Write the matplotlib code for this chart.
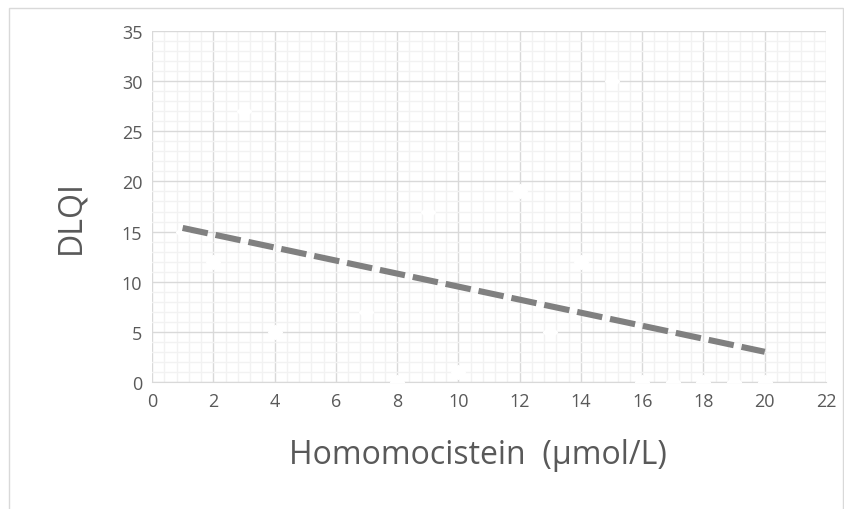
import numpy as np
import matplotlib
matplotlib.use('Agg')
import matplotlib.pyplot as plt
from matplotlib.patches import Rectangle
from matplotlib.ticker import MultipleLocator

# data (white diamond markers)
homocys = [1, 2, 3, 4, 7, 8, 9, 10, 12, 13, 14, 15, 16, 17, 18, 19, 20]
dlqi = [15, 12, 27, 5, 7, 0, 17, 1, 19, 5, 12, 30, 0, 0, 0, 0, 0]

plt.rcParams['font.family'] = ['Open Sans', 'DejaVu Sans']

fig = plt.figure(figsize=(8.45, 5.1), dpi=100)
fig.patches.append(Rectangle((9 / 845, -0.1), 834 / 845, 1.1 - 9 / 510,
                             transform=fig.transFigure, fill=False,
                             edgecolor='#d9d9d9', linewidth=1))
ax = fig.add_axes([152 / 845, 1 - 383 / 510, 674 / 845, 351 / 510])

ax.set_xlim(0, 22)
ax.set_ylim(0, 35)
ax.xaxis.set_major_locator(MultipleLocator(2))
ax.yaxis.set_major_locator(MultipleLocator(5))
ax.xaxis.set_minor_locator(MultipleLocator(0.4))
ax.yaxis.set_minor_locator(MultipleLocator(1))
ax.grid(which='minor', color='#f2f2f2', linewidth=1)
ax.grid(which='major', color='#d9d9d9', linewidth=1)
ax.set_axisbelow(True)
ax.tick_params(which='both', length=0, labelsize=13, colors='#595959', pad=7)
for s in ax.spines.values():
    s.set_visible(False)
ax.spines['bottom'].set_visible(True)
ax.spines['bottom'].set_color('#d9d9d9')

ax.plot(homocys, dlqi, linestyle='none', marker='D', markersize=7,
        markerfacecolor='white', markeredgecolor='white', zorder=3)

# linear trendline
k, b = np.polyfit(homocys, dlqi, 1)
tx = np.array([min(homocys), max(homocys)])
ax.plot(tx, k * tx + b, color='#808080', linewidth=4.4,
        linestyle=(0, (4.2, 1.3)), zorder=4)

ax.set_xlabel('Homomocistein  (µmol/L)', fontsize=23, color='#595959')
ax.xaxis.set_label_coords(0.484, -0.16)
ax.xaxis.label.set_va('top')
ax.set_ylabel('DLQI', fontsize=23, color='#595959')
ax.yaxis.set_label_coords(-0.0964, 0.473)

fig.savefig('out.png', dpi=100)
